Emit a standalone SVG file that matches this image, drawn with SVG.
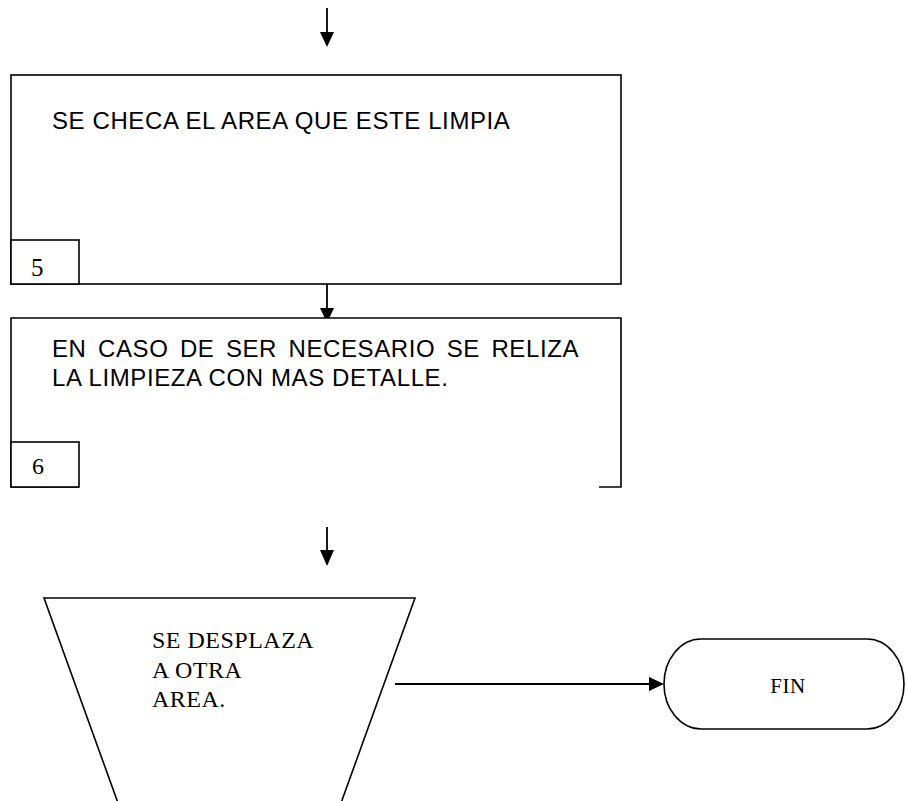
<svg xmlns="http://www.w3.org/2000/svg" width="906" height="801" viewBox="0 0 906 801">
<defs>
<style>
.shape{fill:#fff;stroke:#000;stroke-width:1.6}
.edge{fill:none;stroke:#000;stroke-width:1.8}
.head{fill:#000;stroke:none}
.sans{font-family:"Liberation Sans",Arial,sans-serif;font-size:24px;letter-spacing:0.6px;fill:#000}
.serif{font-family:"Liberation Serif","Times New Roman",serif;fill:#000}
</style>
</defs>
<rect width="906" height="801" fill="#fff"/>
<g id="connectors">
<line class="edge" x1="327" y1="8" x2="327" y2="33"/>
<polygon class="head" points="320,32 334,32 327,47"/>
<line class="edge" x1="327" y1="284" x2="327" y2="309"/>
<polygon class="head" points="320,308 334,308 327,323"/>
<line class="edge" x1="327" y1="527" x2="327" y2="551"/>
<polygon class="head" points="320,550 334,550 327,566"/>
<line class="edge" x1="395" y1="684" x2="650" y2="684" stroke-width="2.2"/>
<polygon class="head" points="649,677 649,691 664,684"/>
</g>
<g id="node5">
<rect class="shape" x="11" y="75" width="610" height="209"/>
<text class="sans" x="52" y="129">SE CHECA EL AREA QUE ESTE LIMPIA</text>
<rect class="shape" x="11" y="240" width="68" height="44"/>
<text class="serif" x="31" y="276" font-size="25">5</text>
</g>
<g id="node6">
<path class="shape" fill="none" d="M79,487 L11,487 L11,318 L621,318 L621,487 L599,487"/>
<text class="sans" x="52" y="357" word-spacing="4.2">EN CASO DE SER NECESARIO SE RELIZA</text>
<text class="sans" x="52" y="386">LA LIMPIEZA CON MAS DETALLE.</text>
<rect class="shape" x="11" y="442" width="68" height="45"/>
<text class="serif" x="32" y="474" font-size="24">6</text>
</g>
<g id="node7">
<path class="shape" d="M44,598 L415,598 L341,803 L118,803 Z"/>
<text class="serif" font-size="24" letter-spacing="0.5">
<tspan x="152" y="648">SE DESPLAZA</tspan>
<tspan x="152" y="678">A OTRA</tspan>
<tspan x="152" y="707">AREA.</tspan>
</text>
</g>
<g id="fin">
<rect class="shape" x="664" y="639" width="240" height="90" rx="37" ry="45"/>
<text class="serif" x="788" y="693" font-size="21" text-anchor="middle" letter-spacing="0.5">FIN</text>
</g>
</svg>
